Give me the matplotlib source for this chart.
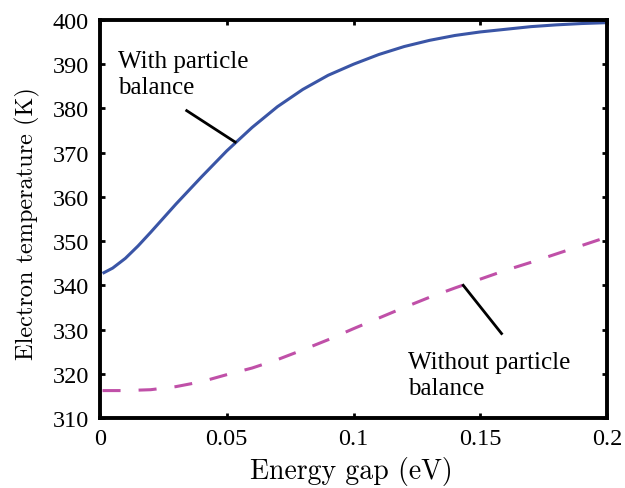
import matplotlib
matplotlib.use("Agg")
import matplotlib.pyplot as plt

# Data
gap_with = [0.001, 0.005, 0.01, 0.015, 0.02, 0.03, 0.04, 0.05, 0.06, 0.07, 0.08,
            0.09, 0.10, 0.11, 0.12, 0.13, 0.14, 0.15, 0.16, 0.17, 0.18, 0.19, 0.20]
temp_with = [342.7, 343.9, 346.1, 348.9, 352.0, 358.4, 364.5, 370.4, 375.7, 380.4, 384.3,
             387.5, 390.0, 392.2, 394.0, 395.4, 396.5, 397.3, 397.9, 398.5, 398.9, 399.2, 399.4]

gap_without = [0.001, 0.01, 0.02, 0.03, 0.04, 0.05, 0.06, 0.07, 0.08, 0.09, 0.10,
               0.11, 0.12, 0.13, 0.14, 0.15, 0.16, 0.17, 0.18, 0.19, 0.20]
temp_without = [316.2, 316.2, 316.4, 317.1, 318.2, 319.8, 321.3, 323.2, 325.4, 327.7, 330.2,
                332.6, 335.0, 337.3, 339.4, 341.4, 343.4, 345.2, 347.1, 349.0, 350.9]

xticks = [0, 0.05, 0.1, 0.15, 0.2]
xticklabels = ["0", "0.05", "0.1", "0.15", "0.2"]
yticks = [310, 320, 330, 340, 350, 360, 370, 380, 390, 400]

fig = plt.figure(figsize=(6.25, 4.89), dpi=100)
ax = fig.add_axes([100/625, 1-419/489, 507/625, 398/489])

ax.plot(gap_with, temp_with, color="#3a55a6", lw=2.2, solid_capstyle="butt")
ax.plot(gap_without, temp_without, color="#c050a8", lw=2.2, dashes=(5.9, 5.9))

ax.set_xlim(0, 0.2)
ax.set_ylim(310, 400)
ax.set_xticks(xticks)
ax.set_xticklabels(xticklabels)
ax.set_yticks(yticks)

for lab in ax.get_xticklabels() + ax.get_yticklabels():
    lab.set_fontfamily("Liberation Serif")
    lab.set_fontsize(17.5)

ax.tick_params(axis="x", direction="in", length=3.5, width=2, top=True, pad=7)
ax.tick_params(axis="y", direction="in", length=3.5, width=2, right=True, pad=8)
for s in ax.spines.values():
    s.set_linewidth(2.8)

# annotations
ax.text(0.0071, 387.8, "With particle\nbalance", family="Liberation Serif", fontsize=18,
        ha="left", va="center", linespacing=1.2)
ax.plot([0.0342, 0.0533], [379.5, 372.4], color="black", lw=2.0)

ax.text(0.1215, 319.7, "Without particle\nbalance", family="Liberation Serif", fontsize=18,
        ha="left", va="center", linespacing=1.2)
ax.plot([0.1433, 0.1584], [340.0, 329.1], color="black", lw=2.0)

fig.text(351/625, 1-472/489, "Energy gap (eV)", family="cmr10", fontsize=20,
         ha="center", va="center")
fig.text(27/625, 1-224/489, "Electron temperature (K)", family="cmr10", fontsize=17.5,
         ha="center", va="center", rotation=90)

fig.savefig("out.png", dpi=100)
